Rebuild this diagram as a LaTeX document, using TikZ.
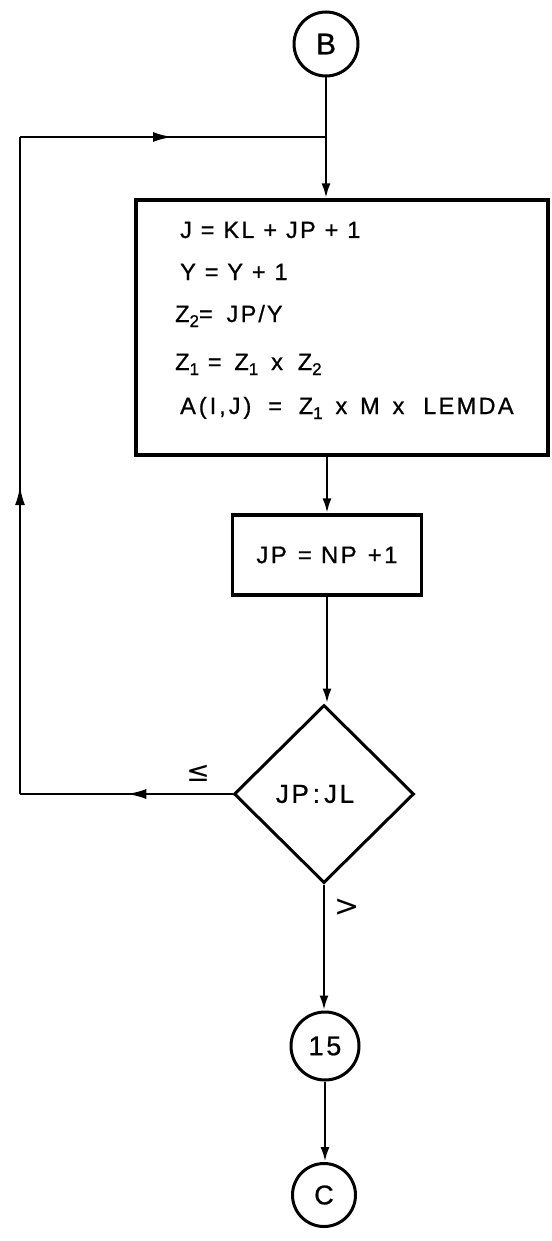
\documentclass[tikz,border=0pt]{standalone}
\usepackage{fontspec}
\setmainfont{Liberation Sans}
\newfontfamily\df[LetterSpace=10,FakeBold=0.8]{Liberation Sans}
\newfontfamily\sym{DejaVu Sans}
\usetikzlibrary{shapes.geometric,arrows.meta,decorations.markings}
\newcommand{\subx}[1]{\raisebox{-5pt}{\fontsize{17}{17}\selectfont #1}}
\tikzset{
  conn/.style={line width=2.8pt},
  arr/.style={conn,-{Latex[length=15pt,width=9pt]}},
  midarr/.style={conn,postaction={decorate},decoration={markings,mark=at position #1 with {\arrow{Latex[length=20pt,width=10pt]}}}},
  procbox/.style={draw,line width=3.2pt,inner sep=0pt},
  txt/.style={font=\df\fontsize{23.5}{28}\selectfont,inner sep=0pt,anchor=base west},
  conncircle/.style={draw,circle,line width=3pt,inner sep=0pt},
  decision/.style={draw,diamond,line width=3pt,inner sep=0pt,minimum width=180pt,minimum height=178pt,font=\df\fontsize{26}{30}\selectfont},
  lbl/.style={inner sep=0pt,font=\sym\fontsize{28}{32}\selectfont}
}
\begin{document}
\begin{tikzpicture}[x=1pt,y=-1pt]
\useasboundingbox (0,0) rectangle (551,1241);
\fill[white] (0,0) rectangle (551,1241);
% nodes
\node[conncircle,minimum size=64pt,font=\df\fontsize{30}{34}\selectfont] (B) at (326,44) {B};
\node[procbox,minimum width=412pt,minimum height=255pt] (box) at (342,327.5) {};
\node[txt] (l1) at (180,238) {J = KL + JP + 1};
\node[txt] (l2) at (180,280) {Y = Y + 1};
\node[txt] (l3) at (175,322) {Z\subx{2}=\hspace{5pt} JP\hspace{2pt}/\hspace{2pt}Y};
\node[txt] (l4) at (175,370) {Z\subx{1} =\hspace{4pt} Z\subx{1}\hspace{4pt} x\hspace{6pt} Z\subx{2}};
\node[txt] (l5) at (180,414) {A\hspace{3pt}(\hspace{3pt}I\hspace{3pt},\hspace{3pt}J\hspace{3pt})\hspace{8pt} = \hspace{8pt}Z\subx{1}\hspace{4pt} x\hspace{4pt} M\hspace{4pt} x\hspace{10pt} LEMDA};
\node[procbox,minimum width=189pt,minimum height=80pt,font=\df\fontsize{24}{28}\selectfont] (jp) at (327,555) {JP\hspace{2pt} = NP\hspace{2pt} +1};
\node[decision] (dia) at (324,794) {\hspace{-18pt}JP\hspace{4pt}:\hspace{4pt}JL};
\node[conncircle,minimum size=68pt,font=\df\fontsize{27}{30}\selectfont] (n15) at (325,1046) {15};
\node[conncircle,minimum size=63pt,font=\df\fontsize{27}{30}\selectfont] (C) at (324,1195) {C};
\node[lbl] (le) at (198,773) {≤};
\node[lbl,font=\sym\fontsize{30}{34}\selectfont] (gt) at (347,908) {>};
% coordinates
\coordinate (j) at (B.south |- 0,137);
\coordinate (c1) at (20,794);
\coordinate (c2) at (20,137);
% connectors
\draw[arr] (B.south) -- (B.south |- box.north);
\draw[arr] (jp.north |- box.south) -- (jp.north);
\draw[arr] (jp.south) -- (jp.south |- dia.north);
\draw[arr] (dia.south) -- (dia.south |- n15.north);
\draw[arr] (n15.south) -- (n15.south |- C.north);
\draw[midarr=0.5] (dia.west) -- (c1);
\draw[midarr=0.47] (c1) -- (c2);
\draw[midarr=0.5] (c2) -- (j);
\end{tikzpicture}
\end{document}
